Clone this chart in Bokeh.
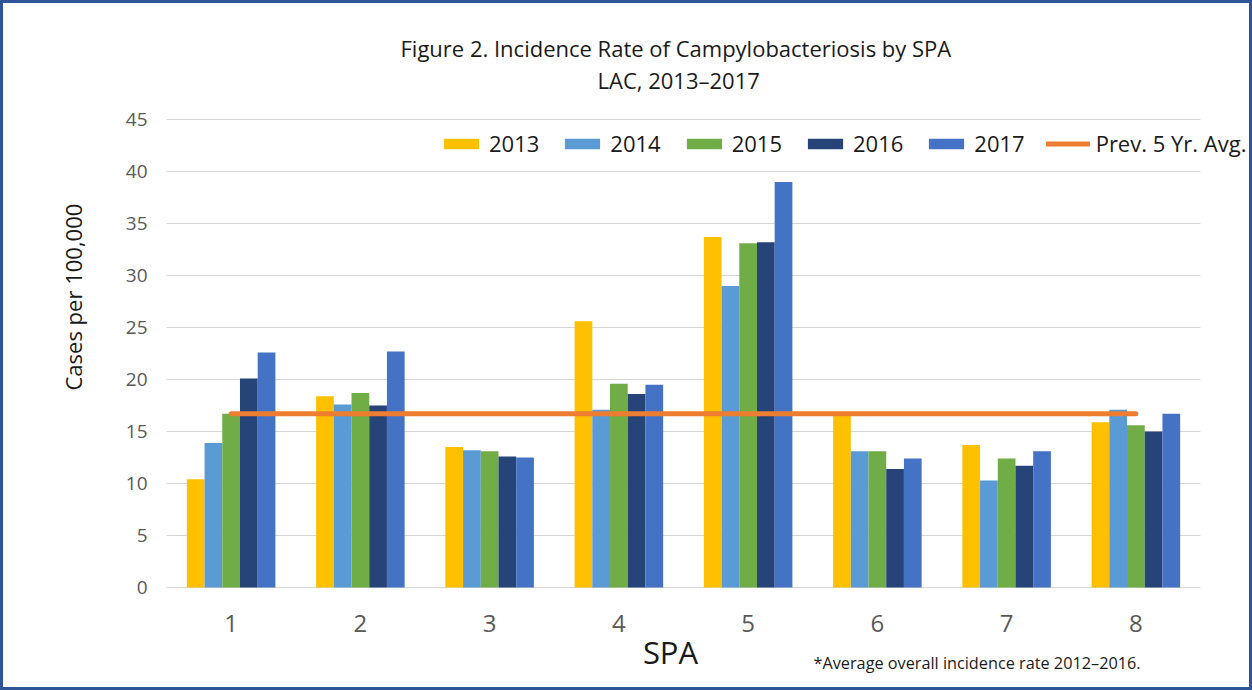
from bokeh.plotting import figure
from bokeh.models import (Range1d, Legend, LegendItem, Title, Label,
                          ColumnDataSource)
from bokeh.transform import dodge
from bokeh.embed import file_html
from bokeh.resources import INLINE

# ---- data ----
spa = ["1", "2", "3", "4", "5", "6", "7", "8"]
years = ["2013", "2014", "2015", "2016", "2017"]
rate_2013 = [10.4, 18.4, 13.5, 25.6, 33.7, 16.6, 13.7, 15.9]
rate_2014 = [13.9, 17.6, 13.2, 17.1, 29.0, 13.1, 10.3, 17.1]
rate_2015 = [16.7, 18.7, 13.1, 19.6, 33.1, 13.1, 12.4, 15.6]
rate_2016 = [20.1, 17.5, 12.6, 18.6, 33.2, 11.4, 11.7, 15.0]
rate_2017 = [22.6, 22.7, 12.5, 19.5, 39.0, 12.4, 13.1, 16.7]
prev_5yr_avg = [16.7, 16.7, 16.7, 16.7, 16.7, 16.7, 16.7, 16.7]
y_ticks = [0, 5, 10, 15, 20, 25, 30, 35, 40, 45]

colors = ["#FFC000", "#5B9BD5", "#70AD47", "#264478", "#4472C4"]
line_color = "#ED7D31"
FONT = "Open Sans"
TXT = "#1a1a1a"

# ---- layout (pixels, canvas coordinates) ----
BORDER = 3
W, H = 1246, 684                 # css size; canvas ends up W+2B x H+2B
CW, CH = W + 2 * BORDER, H + 2 * BORDER
F_LEFT, F_RIGHT, F_TOP, F_BOTTOM = 163, 1244, 91, 682   # frame edges
Y0_PX, Y45_PX = 584, 116         # where 0 and 45 sit
CAT_PX = 129.25                  # width of one SPA slot
px_per_unit = (Y0_PX - Y45_PX) / (y_ticks[-1] - y_ticks[0])

pos = list(range(1, len(spa) + 1))
src = ColumnDataSource(dict(pos=pos, y2013=rate_2013, y2014=rate_2014,
                            y2015=rate_2015, y2016=rate_2016, y2017=rate_2017,
                            avg=prev_5yr_avg))

x_end = 0.5 + (F_RIGHT - F_LEFT) / CAT_PX
y_start = -(F_BOTTOM - Y0_PX) / px_per_unit
y_end = y_ticks[-1] + (Y45_PX - F_TOP) / px_per_unit

p = figure(x_range=Range1d(0.5, x_end), y_range=Range1d(y_start, y_end),
           width=W, height=H, output_backend="svg", toolbar_location=None,
           min_border_left=F_LEFT, min_border_right=CW - F_RIGHT,
           min_border_top=F_TOP, min_border_bottom=CH - F_BOTTOM,
           background_fill_color="white", border_fill_color="white")
p.outline_line_color = None
p.styles = {"border": f"{BORDER}px solid #2F5597", "box-sizing": "content-box"}
p.xgrid.visible = False
p.ygrid.visible = False

# horizontal gridlines across the SPA slots only
p.segment(x0=[0.5] * len(y_ticks), x1=[len(spa) + 0.5] * len(y_ticks),
          y0=y_ticks, y1=y_ticks, line_color="#D6D6D6", line_width=1)

bar_w = 0.137
offsets = [-2 * bar_w, -bar_w, 0, bar_w, 2 * bar_w]
cols = ["y2013", "y2014", "y2015", "y2016", "y2017"]
renderers = []
for col, off, c in zip(cols, offsets, colors):
    r = p.vbar(x=dodge("pos", off), top=col, width=bar_w, source=src,
               fill_color=c, line_color=None)
    renderers.append(r)

lr = p.line(x="pos", y="avg", source=src, line_color=line_color, line_width=5,
            line_cap="round")

# axes
p.yaxis.ticker = y_ticks
p.xaxis.ticker = pos
p.xaxis.major_label_overrides = {i: s for i, s in zip(pos, spa)}
p.xaxis.fixed_location = 0
p.xaxis.bounds = (0.5, 8.3)      # centres the "SPA" label where the reference has it
for ax in (p.xaxis, p.yaxis):
    ax.axis_line_color = None
    ax.major_tick_line_color = None
    ax.minor_tick_line_color = None
    ax.major_label_text_font = FONT
    ax.major_label_text_color = "#595959"
p.yaxis.major_label_text_font_size = "19px"
p.yaxis.major_label_standoff = 13
p.xaxis.major_label_text_font_size = "24px"
p.xaxis.major_label_standoff = 21
p.xaxis.axis_label = "SPA"
p.xaxis.axis_label_text_font = FONT
p.xaxis.axis_label_text_font_size = "31px"
p.xaxis.axis_label_text_font_style = "normal"
p.xaxis.axis_label_text_color = TXT
p.xaxis.axis_label_standoff = -4

# y axis title (sits higher than the frame centre, as in the reference)
p.add_layout(Title(text="Cases per 100,000", align="left", offset=295,
                   text_font=FONT, text_font_size="22px",
                   text_font_style="normal", text_color=TXT,
                   standoff=70), "left")

# titles
p.add_layout(Title(text="LAC, 2013\u20132017", align="left", offset=431,
                   text_font=FONT, text_font_size="22px",
                   text_font_style="normal", text_color=TXT,
                   standoff=0), "above")
p.add_layout(Title(text="Figure 2. Incidence Rate of Campylobacteriosis by SPA",
                   align="left", offset=234, text_font=FONT,
                   text_font_size="22px", text_font_style="normal",
                   text_color=TXT, standoff=0), "above")

# legend
items = [LegendItem(label=y, renderers=[r]) for y, r in zip(years, renderers)]
items.append(LegendItem(label="Prev. 5 Yr. Avg.", renderers=[lr]))
legend = Legend(items=items, location=(273, 527), orientation="horizontal",
                glyph_width=44, glyph_height=13, label_standoff=6, spacing=21,
                padding=0, margin=0, border_line_color=None,
                background_fill_alpha=0, label_text_font=FONT,
                label_text_font_size="22px", label_text_color=TXT,
                label_height=13)
p.add_layout(legend)

# footnote
p.add_layout(Label(x=647, y=23, x_units="screen", y_units="screen",
                   text="*Average overall incidence rate 2012\u20132016.",
                   text_font=FONT, text_font_size="16.25px",
                   text_baseline="middle", text_color=TXT))

open("out.html", "w").write(file_html(p, INLINE))
